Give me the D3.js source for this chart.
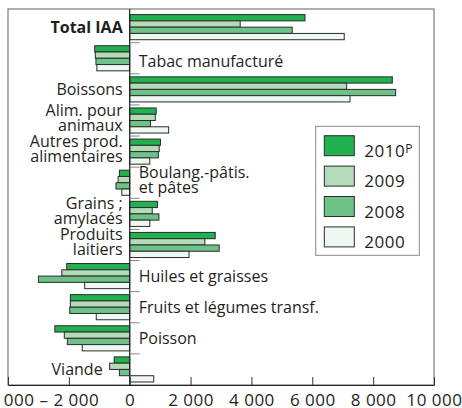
<!DOCTYPE html>
<html>
<head>
<meta charset="utf-8">
<script src="https://cdn.jsdelivr.net/npm/d3@7"></script>
<style>
  html, body { margin: 0; padding: 0; background: #fff; }
  svg { display: block; font-family: "Open Sans", sans-serif; }
</style>
</head>
<body>
<div id="chart"></div>
<script>
// Categories top to bottom, label lines and which side of zero the label sits
const categories = ["Total IAA", "Tabac manufacturé", "Boissons", "Alim. pour animaux",
  "Autres prod. alimentaires", "Boulang.-pâtis. et pâtes", "Grains ; amylacés",
  "Produits laitiers", "Huiles et graisses", "Fruits et légumes transf.", "Poisson", "Viande"]
const labelLines = [["Total IAA"], ["Tabac manufacturé"], ["Boissons"], ["Alim. pour", "animaux"],
  ["Autres prod.", "alimentaires"], ["Boulang.-pâtis.", "et pâtes"], ["Grains ;", "amylacés"],
  ["Produits", "laitiers"], ["Huiles et graisses"], ["Fruits et légumes transf."], ["Poisson"], ["Viande"]]
const labelSide = ["left", "right", "left", "left", "left", "right", "left", "left", "right", "right", "right", "left"]

const years = ["2010P", "2009", "2008", "2000"]
const values2010 = [5760, -1150, 8630, 870, 1010, -340, 910, 2810, -2070, -1950, -2460, -510]
const values2009 = [3630, -1130, 7130, 840, 970, -380, 740, 2470, -2230, -1950, -2150, -660]
const values2008 = [5340, -1110, 8740, 680, 940, -450, 960, 2940, -3000, -1970, -2050, -340]
const values2000 = [7050, -1080, 7240, 1280, 660, -260, 660, 1950, -1480, -1100, -1560, 790]

const xTicks = [-4000, -2000, 0, 2000, 4000, 6000, 8000, 10000]
const colors = ["#22b14f", "#b3dcb9", "#6fc287", "#eef7f1"]

const W = 462, H = 408
const plot = { left: 8, right: 434, top: 9, bottom: 385 }

const series = [values2010, values2009, values2008, values2000]
const data = categories.map((c, i) => ({
  cat: c,
  lines: labelLines[i],
  side: labelSide[i],
  vals: years.map((y, j) => ({ year: y, value: series[j][i] }))
}))

const svg = d3.select("#chart").append("svg")
  .attr("width", W)
  .attr("height", H)

const x = d3.scaleLinear()
  .domain([-4000, 10000])
  .range([plot.left, plot.right])

const y = d3.scaleBand()
  .domain(categories)
  .range([11.6, plot.bottom])

const yInner = d3.scaleBand()
  .domain(years)
  .range([3, y.bandwidth() - 3])

const color = d3.scaleOrdinal().domain(years).range(colors)

// Frame
svg.append("rect")
  .attr("x", plot.left)
  .attr("y", plot.top)
  .attr("width", plot.right - plot.left)
  .attr("height", plot.bottom - plot.top)
  .attr("fill", "none")
  .attr("stroke", "#7a7a7a")
  .attr("stroke-width", 1.2)

// Bars
const groups = svg.append("g")
  .selectAll("g")
  .data(data)
  .join("g")
  .attr("transform", d => `translate(0,${y(d.cat)})`)

groups.selectAll("rect")
  .data(d => d.vals)
  .join("rect")
  .attr("x", d => x(Math.min(0, d.value)))
  .attr("y", d => yInner(d.year))
  .attr("width", d => Math.abs(x(d.value) - x(0)))
  .attr("height", yInner.bandwidth())
  .attr("fill", d => color(d.year))
  .attr("stroke", "#2b2b2b")
  .attr("stroke-width", 1)

// Small separators between groups, right of zero
svg.append("g")
  .selectAll("line")
  .data(categories.slice(1))
  .join("line")
  .attr("x1", x(0))
  .attr("x2", x(0) + 10)
  .attr("y1", d => y(d))
  .attr("y2", d => y(d))
  .attr("stroke", "#888")
  .attr("stroke-width", 1)

// Zero line
svg.append("line")
  .attr("x1", x(0)).attr("x2", x(0))
  .attr("y1", plot.top).attr("y2", plot.bottom)
  .attr("stroke", "#222")
  .attr("stroke-width", 1.2)

// Category labels
const labels = svg.append("g")
  .selectAll("text")
  .data(data)
  .join("text")
  .attr("font-size", 16)
  .attr("fill", "#231f20")
  .attr("font-weight", d => d.cat === "Total IAA" ? "bold" : "normal")
  .attr("text-anchor", d => d.side === "left" ? "end" : "start")
  .attr("x", d => d.side === "left"
    ? x(Math.min(0, d3.min(d.vals, v => v.value))) - 7
    : x(Math.max(0, d3.max(d.vals, v => v.value))) + 9)
  .attr("y", d => y(d.cat) + y.bandwidth() / 2)

labels.selectAll("tspan")
  .data(d => d.lines.map((t, i) => ({ t, i, n: d.lines.length, cat: d.cat })))
  .join("tspan")
  .attr("x", function() { return this.parentNode.getAttribute("x") })
  // the tobacco label sits a little lower in the original
  .attr("dy", d => d.n === 1 ? (d.cat === "Tabac manufacturé" ? 8.5 : 5.5) : (d.i === 0 ? -4.5 : 15))
  .text(d => d.t)

// X axis
const fmt = d3.formatLocale({ decimal: ",", thousands: "\u00a0", grouping: [3], currency: ["", ""] }).format(",")
const xAxis = svg.append("g")
  .attr("transform", `translate(0,${plot.bottom})`)
  .call(d3.axisBottom(x)
    .tickValues(xTicks)
    .tickSizeInner(-8)
    .tickSizeOuter(0)
    .tickFormat(d => (d < 0 ? "– " : "") + fmt(Math.abs(d))))

xAxis.select(".domain")
  .attr("stroke", "#222")
  .attr("stroke-width", 1.2)
xAxis.selectAll(".tick line").attr("stroke", "#333")
xAxis.selectAll(".tick text")
  .attr("y", 21)
  .attr("dy", 0)
  .attr("font-size", 17)
  .attr("letter-spacing", 0.5)
  .attr("font-family", "Open Sans, sans-serif")
  .attr("fill", "#231f20")

// first label is cut by the left edge, only its last digits show
xAxis.selectAll(".tick text")
  .filter(d => d === xTicks[0])
  .attr("text-anchor", "end")
  .attr("x", 26)

// Legend
const legend = svg.append("g")
legend.append("rect")
  .attr("x", 315.7)
  .attr("y", 126.3)
  .attr("width", 103.6)
  .attr("height", 129)
  .attr("fill", "#fff")
  .attr("stroke", "#888")
  .attr("stroke-width", 1)

const items = legend.selectAll("g.item")
  .data(years)
  .join("g")
  .attr("class", "item")
  .attr("transform", (d, i) => `translate(324.3,${135.7 + i * 30.4})`)

items.append("rect")
  .attr("width", 30)
  .attr("height", 20)
  .attr("fill", d => color(d))
  .attr("stroke", "#2b2b2b")
  .attr("stroke-width", 1)

const legendText = items.append("text")
  .attr("x", 40)
  .attr("y", 21)
  .attr("font-size", 17)
  .attr("letter-spacing", 0.5)
  .attr("fill", "#231f20")

legendText.append("tspan").text(d => d.replace("P", ""))
legendText.filter(d => d.endsWith("P"))
  .append("tspan")
  .attr("font-size", 12)
  .attr("dy", -4)
  .text("P")
</script>
</body>
</html>
